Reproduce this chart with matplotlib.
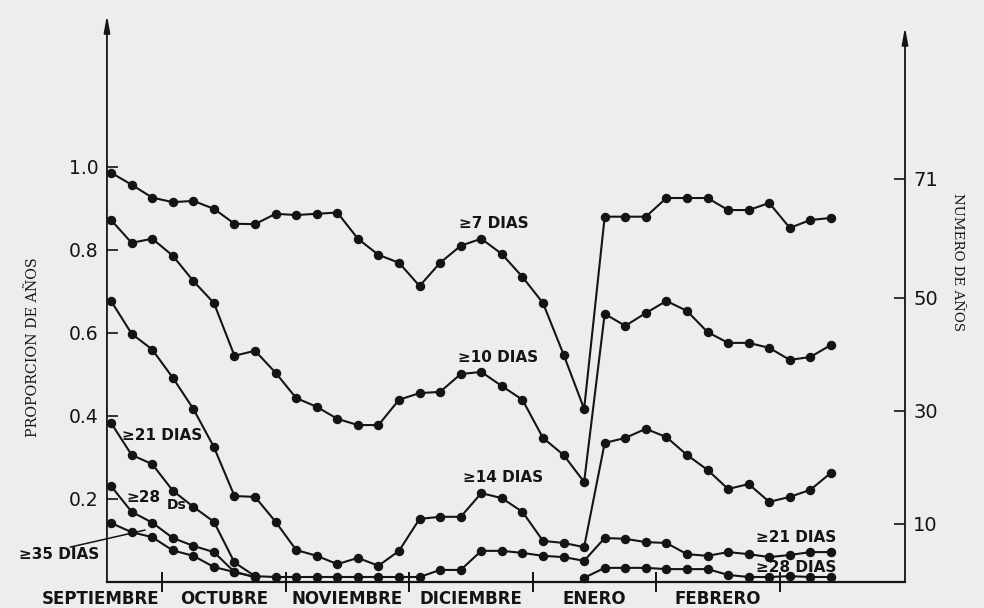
import numpy as np
import matplotlib
matplotlib.use("Agg")
import matplotlib.pyplot as plt
from matplotlib.transforms import blended_transform_factory

nan = np.nan

# ---------------- data (pentads, 0 = 4th pentad of September) ----------------
months = ["SEPTIEMBRE", "OCTUBRE", "NOVIEMBRE", "DICIEMBRE", "ENERO", "FEBRERO"]
pentads = np.arange(36)

d7 = [0.986, 0.957, 0.926, 0.915, 0.918, 0.899, 0.863, 0.862, 0.887, 0.884, 0.887, 0.890,
      0.827, 0.788, 0.769, 0.713, 0.769, 0.810, 0.827, 0.790, 0.735, 0.672, 0.548, 0.417,
      0.880, 0.880, 0.880, 0.925, 0.925, 0.925, 0.896, 0.896, 0.913, 0.853, 0.872, 0.877]
d10 = [0.872, 0.817, 0.827, 0.786, 0.725, 0.672, 0.545, 0.557, 0.504, 0.443, 0.422, 0.393,
       0.378, 0.378, 0.439, 0.455, 0.458, 0.501, 0.506, 0.472, 0.439, 0.347, 0.306, 0.241,
       0.646, 0.617, 0.648, 0.677, 0.653, 0.602, 0.576, 0.576, 0.564, 0.535, 0.542, 0.571]
d14 = [0.677, 0.598, 0.560, 0.492, 0.417, 0.325, 0.207, 0.205, 0.145, 0.077, 0.063, 0.043,
       0.058, 0.039, 0.075, 0.152, 0.157, 0.157, 0.214, 0.202, 0.169, 0.099, 0.094, 0.084,
       0.335, 0.347, 0.369, 0.349, 0.306, 0.270, 0.224, 0.236, 0.193, 0.205, 0.222, 0.263]
d21 = [0.383, 0.306, 0.284, 0.220, 0.181, 0.145, 0.047, 0.014, 0.012, 0.012, 0.012, 0.012,
       0.012, 0.012, 0.012, 0.012, 0.029, 0.029, 0.075, 0.075, 0.070, 0.063, 0.060, 0.051,
       0.106, 0.104, 0.096, 0.094, 0.067, 0.063, 0.072, 0.067, 0.060, 0.065, 0.072, 0.072]
d28 = [0.231, 0.169, 0.143, 0.106, 0.087, 0.072, 0.024, 0.012, nan, nan, nan, nan,
       nan, nan, nan, nan, nan, nan, nan, nan, nan, nan, nan, 0.010,
       0.034, 0.034, 0.034, 0.031, 0.031, 0.031, 0.017, 0.012, 0.012, 0.014, 0.012, 0.012]
d35 = [0.142, 0.120, 0.108, 0.076, 0.063, 0.036, 0.024, 0.012, nan, nan, nan, nan,
       nan, nan, nan, nan, nan, nan, nan, nan, nan, nan, nan, nan,
       nan, nan, nan, nan, nan, nan, nan, nan, nan, nan, nan, nan]

left_ticks = [0.2, 0.4, 0.6, 0.8, 1.0]
left_labels = ["0.2", "0.4", "0.6", "0.8", "1.0"]
right_ticks = [10, 30, 50, 71]

# ---------------- style ----------------
ink = "#141414"
bg = "#ededed"
plt.rcParams["font.family"] = ["DejaVu Sans"]

fig = plt.figure(figsize=(9.84, 6.08), dpi=100, facecolor=bg)
ax = fig.add_axes([0.1087, 0.0428, 0.811, 0.9326])
ax.set_facecolor(bg)
ax.set_xlim(-0.2, 38.6)
ax.set_ylim(0, 1.366)

for vals in (d7, d10, d14, d21, d28, d35):
    ax.plot(pentads, vals, "-o", color=ink, lw=1.5, ms=5.8, clip_on=False, zorder=3)

# axes / spines
for s in ("top", "left", "right"):
    ax.spines[s].set_visible(False)
ax.spines["bottom"].set_color(ink)
ax.spines["bottom"].set_linewidth(1.6)

arrow = dict(arrowstyle="-|>,head_length=1.0,head_width=0.18", lw=1.3, color=ink,
             shrinkA=0, shrinkB=0)
ax.annotate("", xy=(0, 1.0), xytext=(0, 0), xycoords="axes fraction", arrowprops=arrow)
ax.annotate("", xy=(1, 0.979), xytext=(1, 0), xycoords="axes fraction", arrowprops=arrow)

# month boundaries and labels
ax.set_xticks([2.5 + 6 * k for k in range(len(months))])
ax.tick_params(axis="x", direction="inout", length=14, width=1.4, color=ink, labelbottom=False)
tb = blended_transform_factory(ax.transData, ax.transAxes)
for k, m in enumerate(months):
    ax.text(-0.5 + 6 * k, -0.03, m, transform=tb, ha="center", va="center",
            fontsize=12, fontweight="bold", color=ink)

# left axis ticks
ax.set_yticks(left_ticks)
ax.set_yticklabels(left_labels)
ax.tick_params(axis="y", direction="in", length=8, width=1.2, color=ink, pad=6,
               labelsize=13.5, labelcolor=ink)

# right axis
ax2 = ax.twinx()
ax2.set_ylim(-0.32, 100.0)
for s in ax2.spines.values():
    s.set_visible(False)
ax2.set_yticks(right_ticks)
ax2.set_yticklabels([str(t) for t in right_ticks])
ax2.tick_params(axis="y", direction="in", length=8, width=1.2, color=ink, pad=6,
                labelsize=14, labelcolor=ink)

# axis titles
fig.text(33 / 984, 1 - 347 / 608, "PROPORCION DE AÑOS", rotation=90, ha="center", va="center",
         fontsize=10.3, family="DejaVu Serif", color=ink)
fig.text(958 / 984, 1 - 262 / 608, "NUMERO DE AÑOS", rotation=-90, ha="center", va="center",
         fontsize=9.6, family="DejaVu Serif", color=ink)

# series labels
lab = dict(fontsize=11, fontweight="bold", color=ink, ha="center", va="center", zorder=4)
ax.text(18.6, 0.863, "≥7 DIAS", **lab)
ax.text(18.8, 0.540, "≥10 DIAS", **lab)
ax.text(19.05, 0.251, "≥14 DIAS", **lab)
ax.text(2.5, 0.352, "≥21 DIAS", **lab)
ax.text(33.3, 0.106, "≥21 DIAS", **lab)
ax.text(33.3, 0.036, "≥28 DIAS", **lab)
ax.text(0.75, 0.203, "≥28", fontsize=11, fontweight="bold", color=ink, ha="left", va="center")
ax.text(2.7, 0.186, "Ds", fontsize=10, fontweight="bold", color=ink, ha="left", va="center")
ax.text(-2.55, 0.065, "≥35 DIAS", fontsize=11, fontweight="bold", color=ink,
        ha="center", va="center", clip_on=False)
ax.annotate("", xy=(1.65, 0.125), xytext=(-1.99, 0.084), annotation_clip=False,
            arrowprops=dict(arrowstyle="-", lw=1.1, color=ink, shrinkA=0, shrinkB=0))

fig.savefig("out.png", dpi=100, facecolor=bg)
